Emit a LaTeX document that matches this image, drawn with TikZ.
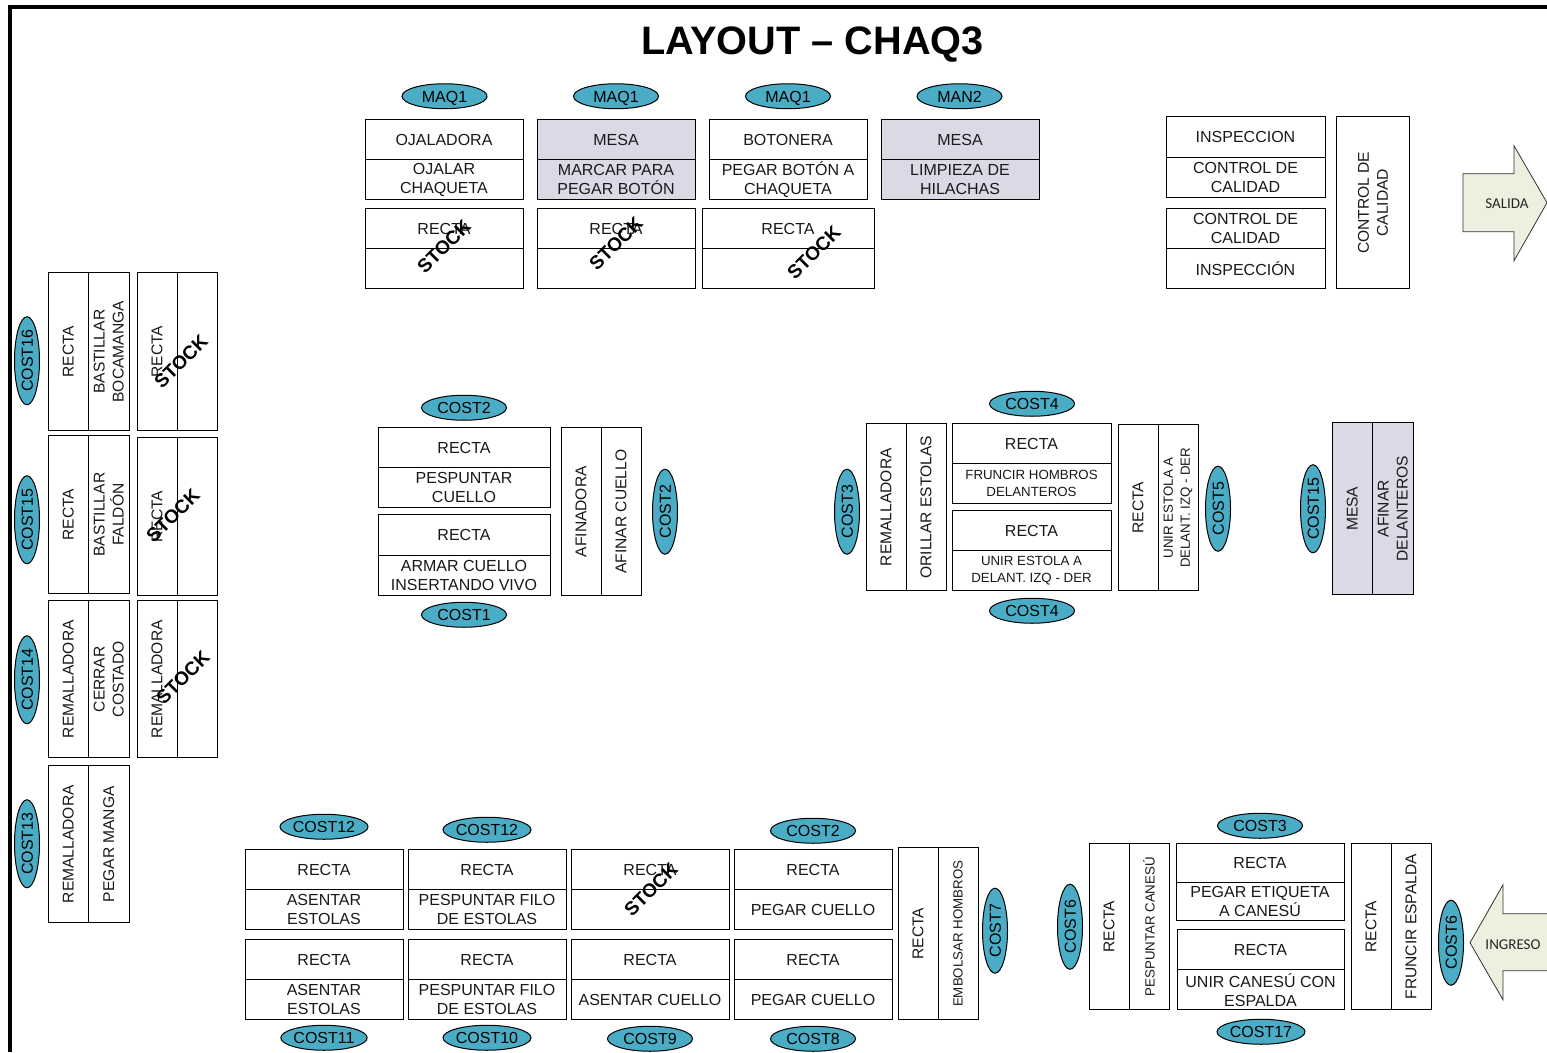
\documentclass[tikz,border=0pt]{standalone}
\usepackage{fontspec}
\usetikzlibrary{shapes.geometric}
\setmainfont{Liberation Sans}
\newfontfamily\arrowfont{Carlito}
\definecolor{lilac}{HTML}{DDD8E6}
\definecolor{teal1}{HTML}{4BACC6}
\definecolor{pale}{HTML}{EBF1DE}
\newcommand{\fbig}{\fontsize{16}{19}\selectfont}
\newcommand{\fvert}{\fontsize{15.6}{19}\selectfont}
\newcommand{\fsmall}{\fontsize{13.3}{17}\selectfont}
\tikzset{
  cell/.style={draw=black,line width=0.9pt,inner sep=0pt,align=center,font=\fbig,text=black!90},
  tag/.style={ellipse,draw=black,line width=1pt,fill=teal1,inner sep=0pt,font=\fbig,text=black,text height=11.5pt,text depth=0pt},
  htag/.style={tag,minimum width=85pt,minimum height=25pt},
  vtag/.style={tag,minimum width=85pt,minimum height=25pt,rotate=90},
  stock/.style={font=\bfseries\fontsize{19}{19}\selectfont,rotate=45,inner sep=0pt,text=black},
  flow/.style={draw=black!80,line width=0.8pt,fill=pale},
  flowtxt/.style={font=\arrowfont\fontsize{15}{15}\selectfont,inner sep=0pt,text=black!85},
  rim/.style={fill=black}
}
% horizontal station: name, left, top, right, bottom, fill, top text, bottom text, bottom font
\newcommand{\Hst}[9]{%
  \pgfmathsetmacro{\cw}{#4-#2}\pgfmathsetmacro{\ch}{(#5-#3)/2}%
  \pgfmathsetmacro{\cx}{(#2+#4)/2}%
  \pgfmathsetmacro{\ca}{#3+\ch/2}\pgfmathsetmacro{\cb}{#5-\ch/2}%
  \node[cell,fill=#6,minimum width=\cw pt,minimum height=\ch pt] (#1a) at (\cx,\ca) {#7};
  \node[cell,fill=#6,minimum width=\cw pt,minimum height=\ch pt,font=#9] (#1b) at (\cx,\cb) {#8};
}
% vertical station
\newcommand{\Vst}[9]{%
  \pgfmathsetmacro{\cw}{(#4-#2)/2}\pgfmathsetmacro{\ch}{#5-#3}%
  \pgfmathsetmacro{\cy}{(#3+#5)/2}%
  \pgfmathsetmacro{\ca}{#2+\cw/2}\pgfmathsetmacro{\cb}{#4-\cw/2}%
  \node[cell,rotate=90,fill=#6,minimum width=\ch pt,minimum height=\cw pt,font=\fvert] (#1a) at (\ca,\cy) {#7};
  \node[cell,rotate=90,fill=#6,minimum width=\ch pt,minimum height=\cw pt,font=#9] (#1b) at (\cb,\cy) {#8};
}
\begin{document}
\begin{tikzpicture}[x=1pt,y=-1pt]
\useasboundingbox (0,0) rectangle (1547,1052);
\fill[white] (0,0) rectangle (1547,1052);
\fill[rim] (8,5) rectangle (1547,9);
\fill[rim] (8,5) rectangle (12,1052);
\node[font=\bfseries\fontsize{39.7}{40}\selectfont,inner sep=0pt] (title) at (812.5,45) {LAYOUT – CHAQ3};
\begin{scope}[shift={(0,-0.25)}]
% top row
\Hst{t1}{365}{120}{523}{200}{white}{OJALADORA}{OJALAR\\CHAQUETA}{\fbig}
\Hst{t2}{537}{120}{695}{200}{lilac}{MESA}{MARCAR PARA\\PEGAR BOTÓN}{\fbig}
\Hst{t3}{709}{120}{867}{200}{white}{BOTONERA}{PEGAR BOTÓN A\\CHAQUETA}{\fbig}
\Hst{t4}{881}{120}{1039}{200}{lilac}{MESA}{LIMPIEZA DE\\HILACHAS}{\fbig}
\Hst{t5}{365}{209}{523}{289}{white}{RECTA}{}{\fbig}
\Hst{t6}{537}{209}{695}{289}{white}{RECTA}{}{\fbig}
\Hst{t7}{702}{209}{874}{289}{white}{RECTA}{}{\fbig}
\node[htag] (m1) at (444.5,96.5) {MAQ1};
\node[htag] (m2) at (616,96.5) {MAQ1};
\node[htag] (m3) at (788,96.5) {MAQ1};
\node[htag] (m4) at (959.5,96.5) {MAN2};

% quality
\Hst{q1}{1166}{117}{1325}{198}{white}{INSPECCION}{CONTROL DE\\CALIDAD}{\fbig}
\Hst{q2}{1166}{209}{1325}{289}{white}{CONTROL DE\\CALIDAD}{INSPECCIÓN}{\fbig}
\node[cell,rotate=90,minimum width=172pt,minimum height=73pt,font=\fvert] (q3) at (1373,203) {CONTROL DE\\CALIDAD};
\draw[flow] (1463,174) -- (1514,174) -- (1514,146) -- (1547,203) -- (1514,261) -- (1514,232) -- (1463,232) -- cycle;
\node[flowtxt] (salida) at (1507,204) {SALIDA};

% left column
\Vst{l1}{48}{273}{129}{431}{white}{RECTA}{BASTILLAR\\BOCAMANGA}{\fvert}
\Vst{l2}{137}{273}{217}{431}{white}{RECTA}{}{\fvert}
\Vst{l3}{48}{436}{129}{594}{white}{RECTA}{BASTILLAR\\FALDÓN}{\fvert}
\Vst{l4}{137}{438}{217}{596}{white}{RECTA}{}{\fvert}
\Vst{l5}{48}{601}{129}{758}{white}{REMALLADORA}{CERRAR\\COSTADO}{\fvert}
\Vst{l6}{137}{601}{217}{758}{white}{REMALLADORA}{}{\fvert}
\Vst{l7}{48}{766}{129}{923}{white}{REMALLADORA}{PEGAR MANGA}{\fvert}
\node[vtag] (c16) at (27,361) {COST16};
\node[vtag] (c15) at (27,520) {COST15};
\node[vtag] (c14) at (27,680) {COST14};
\node[vtag] (c13) at (27,844) {COST13};

% centre left
\Hst{a1}{378}{428}{550}{508}{white}{RECTA}{PESPUNTAR\\CUELLO}{\fbig}
\Hst{a2}{378}{515}{550}{596}{white}{RECTA}{ARMAR CUELLO\\INSERTANDO VIVO}{\fbig}
\Vst{a3}{561}{428}{641}{596}{white}{AFINADORA}{AFINAR CUELLO}{\fvert}
\node[htag] (a4) at (464,408) {COST2};
\node[htag] (a5) at (464,615) {COST1};
\node[vtag] (a6) at (665,512) {COST2};

% centre right
\Vst{b1}{866}{424}{946}{591}{white}{REMALLADORA}{ORILLAR ESTOLAS}{\fvert}
\Hst{b2}{952}{424}{1111}{504}{white}{RECTA}{FRUNCIR HOMBROS\\DELANTEROS}{\fsmall}
\Hst{b3}{952}{511}{1111}{591}{white}{RECTA}{UNIR ESTOLA A\\DELANT. IZQ - DER}{\fsmall}
\Vst{b4}{1118}{425}{1198}{591}{white}{RECTA}{UNIR ESTOLA A\\DELANT. IZQ - DER}{\fsmall}
\Vst{b5}{1332}{423}{1413}{595}{lilac}{MESA}{AFINAR\\DELANTEROS}{\fvert}
\node[htag] (b6) at (1032,404) {COST4};
\node[htag] (b7) at (1032,611) {COST4};
\node[vtag] (b8) at (847,512) {COST3};
\node[vtag] (b9) at (1218,509) {COST5};
\node[vtag] (b10) at (1313,509) {COST15};

% bottom
\Hst{d1}{245}{850}{403}{930}{white}{RECTA}{ASENTAR\\ESTOLAS}{\fbig}
\Hst{d2}{408}{850}{566}{930}{white}{RECTA}{PESPUNTAR FILO\\DE ESTOLAS}{\fbig}
\Hst{d3}{571}{850}{729}{930}{white}{RECTA}{}{\fbig}
\Hst{d4}{734}{850}{892}{930}{white}{RECTA}{PEGAR CUELLO}{\fbig}
\Hst{d5}{245}{940}{403}{1020}{white}{RECTA}{ASENTAR\\ESTOLAS}{\fbig}
\Hst{d6}{408}{940}{566}{1020}{white}{RECTA}{PESPUNTAR FILO\\DE ESTOLAS}{\fbig}
\Hst{d7}{571}{940}{729}{1020}{white}{RECTA}{ASENTAR CUELLO}{\fbig}
\Hst{d8}{734}{940}{892}{1020}{white}{RECTA}{PEGAR CUELLO}{\fbig}
\Vst{d9}{898}{848}{978}{1020}{white}{RECTA}{EMBOLSAR HOMBROS}{\fsmall}
\node[htag] (e1) at (324,827) {COST12};
\node[htag] (e2) at (487,830) {COST12};
\node[htag] (e3) at (813,831) {COST2};
\node[htag] (e4) at (324,1038) {COST11};
\node[htag] (e5) at (487,1038) {COST10};
\node[htag] (e6) at (650,1039) {COST9};
\node[htag] (e7) at (813,1039) {COST8};
\node[vtag] (e8) at (995,931) {COST7};

% bottom right
\Vst{f1}{1089}{844}{1169}{1010}{white}{RECTA}{PESPUNTAR CANESÚ}{\fsmall}
\Hst{f2}{1176}{844}{1344}{921}{white}{RECTA}{PEGAR ETIQUETA\\A CANESÚ}{\fbig}
\Hst{f3}{1177}{930}{1344}{1010}{white}{RECTA}{UNIR CANESÚ CON\\ESPALDA}{\fbig}
\Vst{f4}{1351}{844}{1431}{1010}{white}{RECTA}{FRUNCIR ESPALDA}{\fvert}
\node[htag] (g1) at (1260,826) {COST3};
\node[htag] (g2) at (1261,1032) {COST17};
\node[vtag] (g3) at (1070,927) {COST6};
\node[vtag] (g4) at (1451,943) {COST6};
\draw[flow] (1548,914) -- (1503,914) -- (1503,885) -- (1470,943) -- (1503,1000) -- (1503,971) -- (1548,971);
\node[flowtxt] (ingreso) at (1513,945) {INGRESO};

% stock marks
\node[stock] (s1) at (444,247) {STOCK};
\node[stock] (s2) at (616,244) {STOCK};
\node[stock] (s3) at (814,253) {STOCK};
\node[stock] (s4) at (181,362) {STOCK};
\node[stock] (s5) at (173,516) {STOCK};
\node[stock] (s6) at (183,678) {STOCK};
\node[stock] (s7) at (651,890) {STOCK};
\end{scope}
\end{tikzpicture}
\end{document}
